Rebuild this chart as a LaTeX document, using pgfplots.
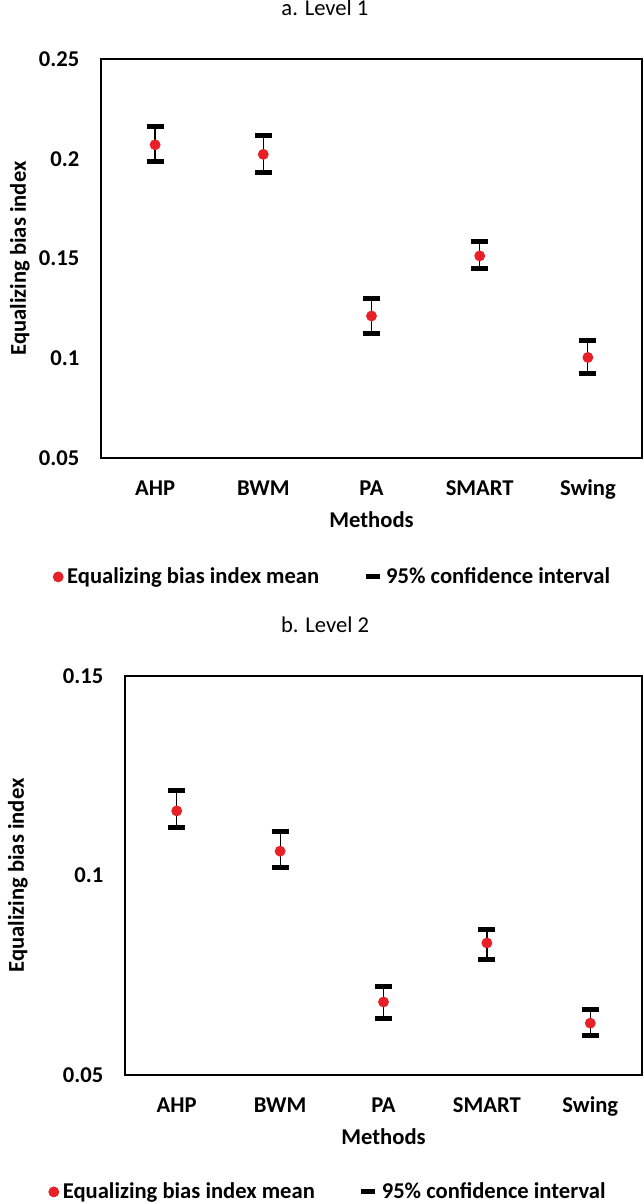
\documentclass[border=0pt]{standalone}
\usepackage{fontspec}
\setmainfont{Carlito}
\usepackage{pgfplots}
\pgfplotsset{compat=1.18}
\usepackage{pgfplotstable}
\definecolor{dotred}{RGB}{232,32,40}
\newcommand\ff{\fontsize{11.3}{13.5}\selectfont}

\pgfplotstableread{
x y ep em
0 0.2070 0.0092 0.0086
1 0.2022 0.0097 0.0090
2 0.1212 0.0090 0.0090
3 0.1513 0.0070 0.0062
4 0.1004 0.0083 0.0082
}\levelone

\pgfplotstableread{
x y ep em
0 0.1162 0.0050 0.0041
1 0.1061 0.0050 0.0041
2 0.0683 0.0040 0.0042
3 0.0831 0.0033 0.0042
4 0.0630 0.0033 0.0030
}\leveltwo

\pgfplotsset{
  mystyle/.style={
    scale only axis,
    height=199.5pt,
    xmin=-0.5, xmax=4.5,
    xtick={0,1,2,3,4},
    xticklabels={AHP,BWM,PA,SMART,Swing},
    major tick length=0pt,
    axis line style={line width=0.6pt},
    xticklabel style={font=\ff\bfseries, anchor=base, yshift=-18.6pt},
    yticklabel style={font=\ff\bfseries, anchor=east, xshift=-7.3pt},
    xlabel={\ff\bfseries Methods},
    ylabel={\ff\bfseries Equalizing bias index},
    xlabel style={at={(rel axis cs:0.5,0)}, anchor=base, yshift=-34.5pt},
    title style={font=\ff, anchor=base},
    legend style={draw=none, fill=none, font=\ff\bfseries,
      /tikz/every even column/.append style={column sep=20pt},
      legend cell align=left},
    legend columns=2,
  },
  myplot/.style={
    only marks, mark=*, mark size=2.5pt, color=dotred,
    mark options={fill=dotred, draw=dotred},
    legend image code/.code={\draw[dotred, fill=dotred] plot[mark=*, mark size=2.5pt] coordinates {(-4pt,0pt)};},
    error bars/.cd, y dir=both, y explicit,
      error bar style={black, line width=0.6pt},
      error mark=|,
      error mark options={black, line width=2.5pt, mark size=4.25pt},
  },
  ciimage/.style={legend image code/.code={\draw[black, line width=2.5pt] (-3pt,0pt) -- (4pt,0pt);}},
}

\begin{document}
\begin{tikzpicture}
\useasboundingbox (0,0) rectangle (321.5pt,-602pt);

\begin{axis}[mystyle,
  at={(50.5pt,-229pt)}, anchor=south west,
  width=270.5pt,
  ymin=0.05, ymax=0.25,
  ytick={0.05,0.1,0.15,0.2,0.25},
  yticklabels={0.05,0.1,0.15,0.2,0.25},
  ylabel style={at={(rel axis cs:-0.15,0.5)}, anchor=center},
  title={a. Level 1},
  title style={at={(rel axis cs:0.414,1.080)}},
  legend style={at={(rel axis cs:0.430,-0.298)}, anchor=center},
]
\addplot[myplot] table[x=x, y=y, y error plus=ep, y error minus=em] {\levelone};
\addlegendentry{Equalizing bias index mean}
\addlegendimage{ciimage}
\addlegendentry{95\% confidence interval}
\end{axis}

\begin{axis}[mystyle,
  at={(62.5pt,-537.5pt)}, anchor=south west,
  width=258.5pt,
  ymin=0.05, ymax=0.15,
  ytick={0.05,0.1,0.15},
  yticklabels={0.05,0.1,0.15},
  ylabel style={at={(rel axis cs:-0.207,0.5)}, anchor=center},
  title={b. Level 2},
  title style={at={(rel axis cs:0.387,1.080)}},
  legend style={at={(rel axis cs:0.395,-0.293)}, anchor=center},
]
\addplot[myplot] table[x=x, y=y, y error plus=ep, y error minus=em] {\leveltwo};
\addlegendentry{Equalizing bias index mean}
\addlegendimage{ciimage}
\addlegendentry{95\% confidence interval}
\end{axis}
\end{tikzpicture}
\end{document}
